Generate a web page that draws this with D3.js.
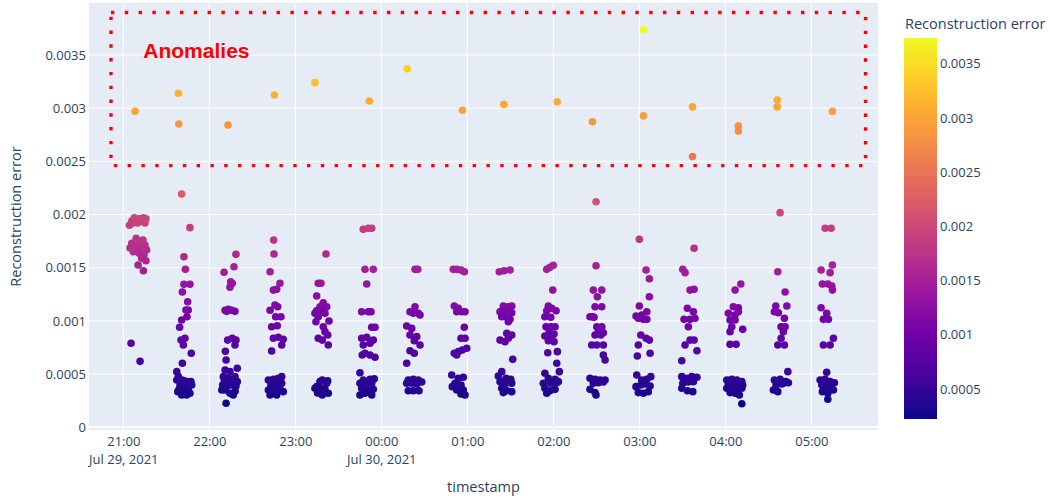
<!DOCTYPE html>
<html>
<head>
<meta charset="utf-8">
<script src="https://cdn.jsdelivr.net/npm/d3@7"></script>
<style>
  body { margin: 0; background: #fff; }
  svg { display: block; }
  text { font-family: "Open Sans", "Noto Sans", sans-serif; fill: #2a3f5f; }
</style>
</head>
<body>
<svg id="chart" width="1050" height="499"></svg>
<script>
// Reconstruction error per reading: [minutes after 21:00 on Jul 29 2021, error]
const batch01 = [[5.9,0.00194],[7.7,0.00197],[10.0,0.00192],[12.3,0.00194],[14.0,0.00197],[15.1,0.00192],[4.3,0.00190],[11.0,0.00196],[15.8,0.00196],[6.8,0.00192],
  [8.9,0.001777],[5.9,0.00173],[11.7,0.001745],[15.1,0.001714],[4.7,0.001686],[9.3,0.001698],[12.8,0.001686],[16.3,0.001667],[7.0,0.00165],[11.2,0.001636],[14.4,0.00162],[12.8,0.001589],[15.8,0.001566],[10.3,0.001526],[14.0,0.001472],[6.1,0.00172],[10.3,0.00170],[13.0,0.00169],[8.2,0.00166],[9.6,0.00175],[13.7,0.00176],[7.5,0.00168],
  [5.4,0.00079],[11.7,0.00062]];
const batch02 = [[40.7,0.002193],[46.5,0.001877],[42.3,0.001604],[43.3,0.001485],[42.3,0.001344],[46.5,0.001344],[41.2,0.001272],[44.9,0.001181],[45.3,0.001103],[43.7,0.001103],[44.4,0.00104],[40.7,0.001009],[39.3,0.00094],[43.0,0.000837],[40.3,0.00082],[41.9,0.000774],[47.4,0.000696],[41.2,0.000602],
  [37.3,0.000523],[38.4,0.000476],[40.7,0.000445],[44.2,0.000429],[47.2,0.000429],[39.6,0.000398],[43.0,0.000382],[45.3,0.000351],[38.0,0.000335],[41.9,0.00032],[46.5,0.00032],[44.2,0.000304],[40.7,0.000304],[37.3,0.000445],[47.7,0.000398],
  [42.0,0.00044],[45.5,0.00041],[39.0,0.00036]];
const batch03 = [[78.6,0.001626],[77.2,0.00151],[70.3,0.001457],[74.9,0.001369],[76.0,0.001354],[74.4,0.001316],[71.0,0.0011],[73.3,0.00111],[75.6,0.0011],[77.9,0.00109],[72.1,0.00109],[72.8,0.00082],[76.0,0.000837],[78.6,0.00082],[71.2,0.000714],[77.9,0.000774],[71.7,0.000633],[79.5,0.000555],
  [71.0,0.000539],[74.4,0.000523],[77.9,0.000476],[69.8,0.000476],[73.3,0.000461],[76.7,0.000445],[79.5,0.000429],[69.3,0.000398],[72.1,0.000382],[75.6,0.000398],[78.6,0.000388],[71.0,0.000351],[74.4,0.00032],[76.7,0.000304],[68.7,0.000351],[71.7,0.000226],
  [73.5,0.00043],[70.5,0.00044],[78.0,0.00034]];
const batch04 = [[104.9,0.00176],[105.1,0.001629],[102.4,0.001463],[109.3,0.001354],[104.7,0.00129],[107.0,0.001297],[105.8,0.00115],[107.7,0.001134],[102.4,0.0011],[106.3,0.00104],[110.0,0.00104],[103.5,0.000946],[107.4,0.000955],[104.7,0.000837],[108.1,0.000846],[111.6,0.000827],[110.5,0.000774],[103.5,0.000717],
  [101.2,0.000445],[104.7,0.000451],[108.1,0.000461],[110.5,0.000476],[103.0,0.000398],[107.0,0.000407],[110.5,0.000414],[101.2,0.000351],[105.4,0.000344],[109.3,0.000357],[111.6,0.000335],[102.4,0.000304],[107.0,0.000304],
  [106.0,0.00038],[103.8,0.00036]];
const batch05 = [[141.4,0.001629],[136.0,0.001354],[137.9,0.001354],[134.9,0.001234],[139.5,0.001171],[141.9,0.001134],[137.2,0.001134],[134.9,0.001096],[138.8,0.001087],[140.7,0.001072],[133.7,0.001072],[136.0,0.00104],[134.4,0.000993],[143.5,0.001],[139.5,0.000946],[140.7,0.000899],[142.6,0.000868],[136.0,0.000837],[138.8,0.00082],[143.0,0.000774],
  [138.8,0.000445],[142.6,0.000438],[134.9,0.000382],[137.9,0.000367],[140.7,0.000357],[133.7,0.000367],[143.0,0.00032],[138.8,0.000304],[136.0,0.000344],[137.2,0.000429],[141.9,0.000414],[135.5,0.000323]];
const batch06 = [[167.4,0.001861],[170.9,0.001871],[173.3,0.001871],[168.6,0.001485],[174.4,0.001485],[169.8,0.001347],[166.3,0.001087],[170.9,0.001087],[172.8,0.001087],[173.3,0.00094],[175.6,0.00094],[166.3,0.000837],[169.8,0.000846],[174.4,0.00082],[172.1,0.00079],[167.4,0.000774],[168.6,0.000696],[166.7,0.00068],[172.1,0.00068],[175.6,0.000658],
  [165.1,0.000513],[167.4,0.000445],[172.1,0.000451],[175.1,0.000457],[165.1,0.000414],[169.8,0.000407],[173.3,0.000414],[166.3,0.000367],[170.9,0.000351],[174.4,0.000357],[165.1,0.000304],[168.6,0.00032],[173.3,0.000304]];
const batch07 = [[203.5,0.001485],[205.4,0.001485],[203.5,0.001134],[200.0,0.001087],[202.3,0.001072],[205.8,0.001072],[207.0,0.001056],[197.7,0.000952],[201.2,0.00093],[200.0,0.000868],[204.7,0.000852],[203.0,0.000814],[207.0,0.000774],[200.0,0.00072],[203.0,0.000696],[197.7,0.000602],
  [198.8,0.000445],[202.3,0.000451],[205.8,0.000445],[208.2,0.000426],[197.7,0.000414],[201.2,0.000414],[204.7,0.000407],[198.8,0.000344],[202.3,0.000344],[206.3,0.000344]];
const batch08 = [[230.2,0.001485],[232.6,0.001485],[235.6,0.001479],[237.9,0.001463],[230.9,0.00114],[233.7,0.001119],[232.6,0.001087],[236.1,0.001087],[238.4,0.001087],[237.9,0.00094],[235.6,0.000837],[238.4,0.000837],[239.6,0.000743],[236.5,0.000727],[233.7,0.000711],[230.9,0.000696],[232.6,0.00068],
  [229.1,0.000492],[233.7,0.000461],[237.2,0.00047],[231.4,0.000414],[235.6,0.000398],[229.5,0.000382],[232.6,0.000351],[237.2,0.000351],[235.6,0.000313],[238.4,0.000304]];
const batch09 = [[262.3,0.001463],[265.6,0.001472],[269.8,0.001479],[265.1,0.00114],[268.6,0.001134],[271.0,0.00114],[262.8,0.001087],[266.3,0.001096],[271.0,0.001077],[264.0,0.00104],[267.5,0.001034],[268.6,0.000993],[269.8,0.001015],[267.5,0.000884],[271.0,0.000868],[262.8,0.00082],[266.3,0.000805],[268.6,0.000837],[271.7,0.000639],
  [264.0,0.000523],[261.6,0.000482],[267.0,0.000461],[270.3,0.000451],[262.8,0.000429],[266.3,0.000407],[271.0,0.000414],[264.0,0.000367],[267.5,0.000344],[271.0,0.000335],[265.1,0.000326]];
const batch10 = [[295.4,0.001485],[297.7,0.001504],[300.0,0.001523],[299.6,0.00129],[296.5,0.00114],[295.4,0.001096],[298.9,0.001119],[301.9,0.001096],[294.1,0.00104],[298.2,0.001034],[294.9,0.000946],[298.2,0.000946],[301.2,0.000946],[297.2,0.000899],[300.5,0.000877],[294.1,0.000858],[298.9,0.000852],[296.5,0.000814],[300.5,0.000805],[296.1,0.000701],[302.8,0.000711],[302.4,0.000602],
  [294.1,0.000508],[304.2,0.000523],[296.5,0.000461],[301.2,0.000451],[303.5,0.000429],[293.0,0.000414],[298.2,0.000414],[302.4,0.000419],[294.1,0.000367],[297.7,0.000344],[295.4,0.00032],[301.2,0.000357]];
const batch11 = [[329.8,0.002121],[329.8,0.001519],[327.9,0.00129],[333.8,0.00129],[330.7,0.001228],[329.1,0.001134],[333.8,0.001134],[327.5,0.00104],[325.6,0.00104],[328.4,0.001034],[330.3,0.000946],[333.8,0.000946],[331.4,0.000899],[334.9,0.000889],[329.1,0.000868],[333.1,0.000868],[326.8,0.000774],[330.3,0.000774],[334.9,0.000774],[334.9,0.00068],[336.1,0.000633],
  [325.6,0.000461],[329.1,0.000451],[332.6,0.000445],[336.1,0.000445],[327.9,0.000414],[331.4,0.000419],[334.9,0.000426],[325.6,0.000357],[329.1,0.000326],[329.8,0.000304]];
const batch12 = [[360.0,0.001767],[364.7,0.001479],[367.0,0.001397],[367.0,0.001228],[360.0,0.00114],[357.7,0.001046],[361.7,0.001056],[365.2,0.001087],[359.3,0.001025],[362.8,0.001015],[365.2,0.001015],[361.0,0.000868],[364.7,0.000837],[367.0,0.00082],[359.3,0.000774],[367.5,0.000696],[358.6,0.00067],
  [358.2,0.000492],[361.7,0.000445],[365.2,0.000451],[368.0,0.000476],[357.7,0.000382],[361.0,0.000398],[364.0,0.000407],[367.5,0.000388],[359.3,0.000326],[362.8,0.00032],[366.3,0.000335]];
const batch13 = [[398.2,0.001683],[390.3,0.001485],[391.9,0.001454],[395.4,0.00129],[398.2,0.001297],[393.5,0.001119],[397.7,0.001087],[391.2,0.001015],[395.4,0.001015],[398.8,0.001025],[394.2,0.000946],[395.4,0.00082],[398.2,0.00082],[391.9,0.000774],[400.2,0.00072],[389.6,0.000626],
  [389.6,0.000476],[393.1,0.000461],[396.6,0.000476],[400.2,0.00047],[390.3,0.000414],[394.2,0.000426],[397.7,0.000429],[389.6,0.000367],[393.5,0.000344],[397.3,0.000335]];
const batch14 = [[430.8,0.001347],[426.8,0.00129],[425.6,0.001134],[429.1,0.001124],[422.1,0.001072],[426.8,0.001056],[429.1,0.001087],[423.3,0.001009],[426.8,0.001009],[424.5,0.000946],[432.1,0.000921],[423.3,0.000899],[423.3,0.00078],[427.5,0.00078],
  [421.0,0.000445],[424.5,0.000451],[428.0,0.000445],[431.5,0.000429],[422.1,0.000407],[425.6,0.000398],[429.1,0.000414],[432.1,0.000398],[421.0,0.000367],[424.5,0.000357],[428.0,0.000351],[431.5,0.000367],[423.3,0.000326],[426.8,0.00032],[429.8,0.000304],[431.5,0.000222],
  [424.0,0.00042],[427.5,0.00043],[430.0,0.00039],[425.6,0.00037],[428.5,0.00038],[422.8,0.00043]];
const batch15 = [[458.2,0.002018],[456.6,0.001463],[461.7,0.001272],[455.2,0.00114],[462.9,0.00114],[454.2,0.001087],[457.0,0.001077],[461.2,0.001025],[458.9,0.000946],[461.7,0.000946],[460.5,0.000899],[458.9,0.000837],[456.6,0.000774],[461.2,0.000774],
  [463.6,0.000523],[454.2,0.000445],[458.2,0.000451],[462.2,0.000429],[464.0,0.000419],[455.4,0.000398],[459.4,0.000407],[453.5,0.000351],[456.6,0.000335],[460.5,0.000414]];
const batch16 = [[489.6,0.001871],[493.8,0.001871],[494.7,0.001526],[486.8,0.001479],[493.1,0.001454],[487.7,0.001347],[491.5,0.001347],[494.3,0.001328],[494.7,0.00129],[486.8,0.001124],[490.7,0.001072],[488.4,0.001015],[491.9,0.001015],[495.4,0.000837],[488.4,0.000774],[493.1,0.000774],
  [490.7,0.000517],[486.1,0.000445],[489.6,0.000451],[493.1,0.000429],[496.1,0.000419],[487.3,0.000398],[491.9,0.000388],[495.4,0.000351],[487.7,0.000335],[491.5,0.00032],[491.5,0.000263],
  [489.0,0.00043],[492.5,0.00041],[488.6,0.00036],[494.0,0.00037]];
const anomalyPoints = [[8.2,0.002971],[38.4,0.00314],[38.7,0.002851],[73.0,0.002842],[105.4,0.003124],[133.7,0.00324],[171.6,0.003068],[198.1,0.00337],[236.6,0.00298],[265.5,0.003035],[302.7,0.00306],[327.3,0.002873],[362.9,0.003738],[362.9,0.002928],[397.1,0.003012],[397.1,0.002545],[429.1,0.002834],[429.1,0.002785],[456.2,0.003077],[456.2,0.003012],[494.7,0.00297]];

const hourTicks = ["21:00","22:00","23:00","00:00","01:00","02:00","03:00","04:00","05:00"];
const dateLabels = {"21:00": "Jul 29, 2021", "00:00": "Jul 30, 2021"};
const yTicks = [0, 0.0005, 0.001, 0.0015, 0.002, 0.0025, 0.003, 0.0035];
const yTickLabels = ["0", "0.0005", "0.001", "0.0015", "0.002", "0.0025", "0.003", "0.0035"];
const colorTicks = [0.0005, 0.001, 0.0015, 0.002, 0.0025, 0.003, 0.0035];
const colorTickLabels = ["0.0005", "0.001", "0.0015", "0.002", "0.0025", "0.003", "0.0035"];
const plasmaStops = ["#0d0887","#46039f","#7201a8","#9c179e","#bd3786","#d8576b","#ed7953","#fb9f3a","#fdca26","#f0f921"];
// Highlighted anomaly window: [start minutes, end minutes], [low error, high error]
const anomalyBoxX = [-8.6, 517.8];
const anomalyBoxY = [0.00246, 0.0039];
const anomalyLabelPos = [51, 0.00354];

const base = new Date(2021, 6, 29, 21, 0, 0);
const toTime = m => new Date(base.getTime() + m * 60000);

const batches = [batch01, batch02, batch03, batch04, batch05, batch06, batch07, batch08,
                 batch09, batch10, batch11, batch12, batch13, batch14, batch15, batch16];
const points = batches.flat().concat(anomalyPoints)
  .map(([m, v]) => ({ t: toTime(m), v }));

const plot = { left: 89, right: 878, top: 3, bottom: 430 };
const svg = d3.select("#chart");

const x = d3.scaleTime()
  .domain([new Date(2021, 6, 29, 20, 36, 4), new Date(2021, 6, 30, 5, 46, 30)])
  .range([plot.left, plot.right]);
const y = d3.scaleLinear()
  .domain([-0.0000254, 0.003989])
  .range([plot.bottom, plot.top]);

const cExtent = d3.extent(points, d => d.v);
const plasma = d3.piecewise(d3.interpolateRgb, plasmaStops);
const color = d3.scaleSequential(plasma).domain(cExtent);

// plot background
svg.append("rect")
  .attr("x", plot.left).attr("y", plot.top)
  .attr("width", plot.right - plot.left).attr("height", plot.bottom - plot.top)
  .attr("fill", "#e5ecf6");

// hour ticks as dates
const tickDates = hourTicks.map(h => {
  const [hh, mm] = h.split(":").map(Number);
  const day = hh >= 12 ? 29 : 30;
  return new Date(2021, 6, day, hh, mm);
});

const grid = svg.append("g");
grid.selectAll(".vg").data(tickDates).join("line")
  .attr("x1", d => x(d)).attr("x2", d => x(d))
  .attr("y1", plot.top).attr("y2", plot.bottom)
  .attr("stroke", "#fff").attr("stroke-width", 1);
grid.selectAll(".hg").data(yTicks).join("line")
  .attr("x1", plot.left).attr("x2", plot.right)
  .attr("y1", d => y(d)).attr("y2", d => y(d))
  .attr("stroke", "#fff").attr("stroke-width", d => d === 0 ? 2 : 1);

// x axis labels
const xAxis = d3.axisBottom(x).tickValues(tickDates).tickSize(0)
  .tickFormat((d, i) => hourTicks[i]);
const gx = svg.append("g").attr("transform", `translate(0,${plot.bottom})`).call(xAxis);
gx.select(".domain").remove();
gx.selectAll("text")
  .attr("y", 0).attr("dy", null)
  .style("font-size", "13px").style("fill", "#2a3f5f")
  .each(function (d, i) {
    const t = d3.select(this);
    t.text(null);
    t.append("tspan").attr("x", 0).attr("y", 16).text(hourTicks[i]);
    if (dateLabels[hourTicks[i]]) {
      t.append("tspan").attr("x", 0).attr("y", 34).text(dateLabels[hourTicks[i]]);
    }
  });

// y axis labels
const yAxis = d3.axisLeft(y).tickValues(yTicks).tickSize(0)
  .tickFormat((d, i) => yTickLabels[i]);
const gy = svg.append("g").attr("transform", `translate(${plot.left - 3},0)`).call(yAxis);
gy.select(".domain").remove();
gy.selectAll("text").attr("x", 0).style("font-size", "13px").style("fill", "#2a3f5f");
gx.selectAll("text").style("font-family", "'Open Sans', sans-serif");
gy.selectAll("text").style("font-family", "'Open Sans', sans-serif");

// axis titles
svg.append("text")
  .attr("x", (plot.left + plot.right) / 2).attr("y", 492)
  .attr("text-anchor", "middle").style("font-size", "14.5px")
  .text("timestamp");
svg.append("text")
  .attr("transform", `translate(15,${(plot.top + plot.bottom) / 2}) rotate(-90)`)
  .attr("text-anchor", "middle").attr("dominant-baseline", "central")
  .style("font-size", "14.5px")
  .text("Reconstruction error");

// points
svg.append("clipPath").attr("id", "plot-clip").append("rect")
  .attr("x", plot.left).attr("y", plot.top)
  .attr("width", plot.right - plot.left).attr("height", plot.bottom - plot.top);
svg.append("g").attr("clip-path", "url(#plot-clip)")
  .selectAll("circle").data(points).join("circle")
  .attr("cx", d => x(d.t)).attr("cy", d => y(d.v))
  .attr("r", 3.8)
  .attr("fill", d => color(d.v));

// anomaly window
const bx0 = x(toTime(anomalyBoxX[0])), bx1 = x(toTime(anomalyBoxX[1]));
const by0 = y(anomalyBoxY[1]), by1 = y(anomalyBoxY[0]);
svg.append("rect")
  .attr("x", bx0).attr("y", by0)
  .attr("width", bx1 - bx0).attr("height", by1 - by0)
  .attr("fill", "none").attr("stroke", "#ff0000")
  .attr("stroke-width", 3.4).attr("stroke-dasharray", "3.4,10.4");

svg.append("text")
  .attr("x", x(toTime(anomalyLabelPos[0]))).attr("y", y(anomalyLabelPos[1]))
  .attr("text-anchor", "middle").attr("dominant-baseline", "central")
  .style("font-family", "'Liberation Sans', Arial, sans-serif")
  .style("font-weight", "bold").style("font-size", "21px").style("fill", "#ff0000")
  .text("Anomalies");

// colorbar
const cb = { x: 904, w: 33, top: 38, bottom: 419 };
const cy = d3.scaleLinear().domain(cExtent).range([cb.bottom, cb.top]);
const grad = svg.append("defs").append("linearGradient")
  .attr("id", "cbar-grad").attr("x1", 0).attr("y1", 1).attr("x2", 0).attr("y2", 0);
d3.range(0, 1.0001, 0.02).forEach(t => {
  grad.append("stop").attr("offset", t).attr("stop-color", plasma(t));
});
svg.append("rect")
  .attr("x", cb.x).attr("y", cb.top)
  .attr("width", cb.w).attr("height", cb.bottom - cb.top)
  .attr("fill", "url(#cbar-grad)");
const cAxis = d3.axisRight(cy).tickValues(colorTicks).tickSize(0)
  .tickFormat((d, i) => colorTickLabels[i]);
const gc = svg.append("g").attr("transform", `translate(${cb.x + cb.w + 1},0)`).call(cAxis);
gc.select(".domain").remove();
gc.selectAll("text").attr("x", 2)
  .style("font-size", "13px").style("fill", "#2a3f5f")
  .style("font-family", "'Open Sans', sans-serif");
svg.append("text")
  .attr("x", 905).attr("y", 29)
  .style("font-size", "14.5px")
  .text("Reconstruction error");
</script>
</body>
</html>
